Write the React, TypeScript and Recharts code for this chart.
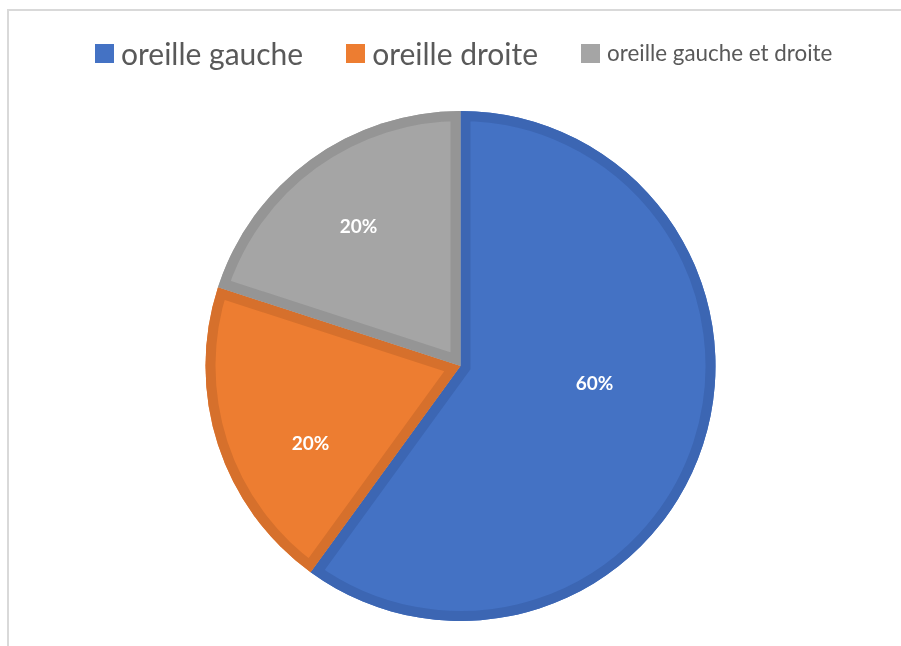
import React from 'react'
import { PieChart, Pie, Cell, Sector } from 'recharts'

const categories = ['oreille gauche', 'oreille droite', 'oreille gauche et droite']
const values = [60, 20, 20]

const fills = ['#4472C4', '#ED7D31', '#A5A5A5']
const borders = ['#3C66B3', '#D6702C', '#959595']
const legendFontSizes = [30, 30, 22.4]
// label placement tweaks (radius factor, angle nudge in degrees), Excel "best fit" style
const labelRadius = [0.53, 0.66, 0.68]
const labelNudge = [11, 9, 0]

const RADIAN = Math.PI / 180

const data = categories.map((name, i) => ({ name, value: values[i] }))

function SliceOverlay(props: any) {
    const { cx, cy, innerRadius, outerRadius, startAngle, endAngle, midAngle, index, percent } = props
    const id = `slice-clip-${index}`
    const r = outerRadius * labelRadius[index]
    const a = (midAngle + labelNudge[index]) * RADIAN
    const x = cx + r * Math.cos(a)
    const y = cy - r * Math.sin(a)
    return (
        <g>
            <defs>
                <clipPath id={id}>
                    <Sector cx={cx} cy={cy} innerRadius={innerRadius} outerRadius={outerRadius} startAngle={startAngle} endAngle={endAngle} />
                </clipPath>
            </defs>
            <Sector
                cx={cx}
                cy={cy}
                innerRadius={innerRadius}
                outerRadius={outerRadius}
                startAngle={startAngle}
                endAngle={endAngle}
                fill="none"
                stroke={borders[index]}
                strokeWidth={20}
                clipPath={`url(#${id})`}
            />
            <text
                x={x}
                y={y}
                fill="#FFFFFF"
                textAnchor="middle"
                dominantBaseline="central"
                style={{ fontFamily: 'Lato, "Open Sans", sans-serif', fontWeight: 700, fontSize: 19 }}
            >
                {`${Math.round(percent * 100)}%`}
            </text>
        </g>
    )
}

function LegendRow() {
    return (
        <div
            style={{
                position: 'absolute',
                left: 87,
                top: 28,
                height: 34,
                display: 'flex',
                alignItems: 'center',
                gap: 43,
                fontFamily: 'Lato, "Open Sans", sans-serif',
                color: '#595959',
                whiteSpace: 'nowrap',
            }}
        >
            {categories.map((name, i) => (
                <div key={name} style={{ display: 'flex', alignItems: 'center', gap: 7 }}>
                    <span style={{ width: 19, height: 19, backgroundColor: fills[i], display: 'inline-block' }} />
                    <span style={{ fontSize: legendFontSizes[i], lineHeight: 1 }}>{name}</span>
                </div>
            ))}
        </div>
    )
}

export default function App() {
    return (
        <div style={{ width: 893, height: 638, overflow: 'hidden', position: 'relative', background: '#fff' }}>
            <div
                style={{
                    position: 'fixed',
                    left: 7,
                    top: 9,
                    right: 0,
                    bottom: 0,
                    borderLeft: '2px solid #D9D9D9',
                    borderTop: '2px solid #D9D9D9',
                }}
            />
            <LegendRow />
            <div style={{ position: 'absolute', left: 0, top: 0 }}>
                <PieChart width={893} height={638} margin={{ top: 0, right: 0, bottom: 0, left: 0 }}>
                    <Pie
                        data={data}
                        dataKey="value"
                        nameKey="name"
                        cx={452.5}
                        cy={358}
                        innerRadius={0}
                        outerRadius={255}
                        startAngle={90}
                        endAngle={-270}
                        stroke="none"
                        label={SliceOverlay}
                        labelLine={false}
                        isAnimationActive={false}
                    >
                        {data.map((entry, index) => (
                            <Cell key={`cell-${index}`} fill={fills[index]} />
                        ))}
                    </Pie>
                </PieChart>
            </div>
        </div>
    )
}
